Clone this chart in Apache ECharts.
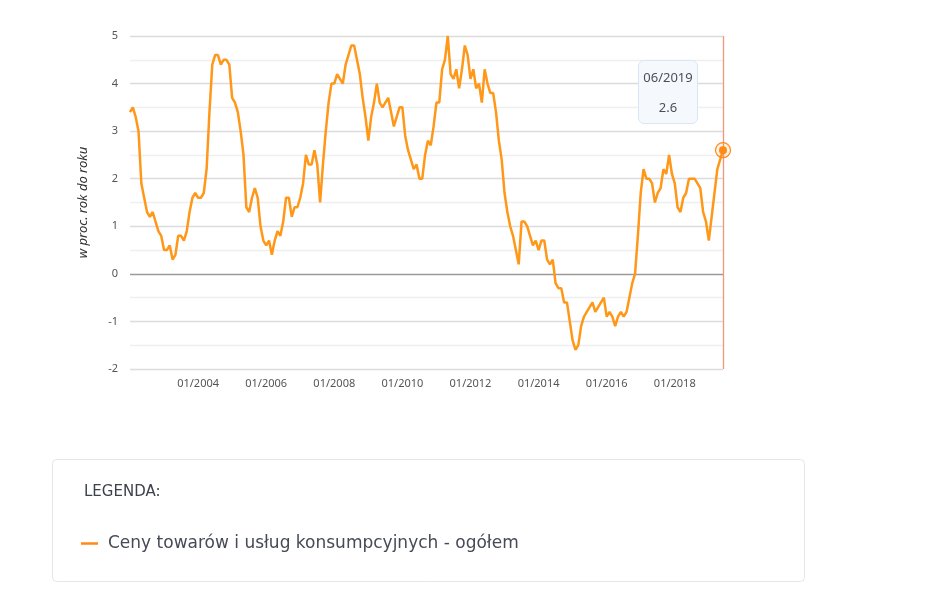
<!DOCTYPE html>
<html lang="pl">
<head>
<meta charset="UTF-8">
<title>Inflacja CPI</title>
<script src="https://cdn.jsdelivr.net/npm/echarts@6/dist/echarts.min.js"></script>
<style>
  html, body { margin: 0; padding: 0; background: #fff; }
  #chart { width: 945px; height: 599px; }
</style>
</head>
<body>
<div id="chart"></div>
<script>
// CPI r/r, miesięcznie 01/2002 - 06/2019
var years = [2002, 2003, 2004, 2005, 2006, 2007, 2008, 2009, 2010, 2011, 2012, 2013, 2014, 2015, 2016, 2017, 2018, 2019];
var cpi2002 = [3.4, 3.5, 3.3, 3.0, 1.9, 1.6, 1.3, 1.2, 1.3, 1.1, 0.9, 0.8];
var cpi2003 = [0.5, 0.5, 0.6, 0.3, 0.4, 0.8, 0.8, 0.7, 0.9, 1.3, 1.6, 1.7];
var cpi2004 = [1.6, 1.6, 1.7, 2.2, 3.4, 4.4, 4.6, 4.6, 4.4, 4.5, 4.5, 4.4];
var cpi2005 = [3.7, 3.6, 3.4, 3.0, 2.5, 1.4, 1.3, 1.6, 1.8, 1.6, 1.0, 0.7];
var cpi2006 = [0.6, 0.7, 0.4, 0.7, 0.9, 0.8, 1.1, 1.6, 1.6, 1.2, 1.4, 1.4];
var cpi2007 = [1.6, 1.9, 2.5, 2.3, 2.3, 2.6, 2.3, 1.5, 2.3, 3.0, 3.6, 4.0];
var cpi2008 = [4.0, 4.2, 4.1, 4.0, 4.4, 4.6, 4.8, 4.8, 4.5, 4.2, 3.7, 3.3];
var cpi2009 = [2.8, 3.3, 3.6, 4.0, 3.6, 3.5, 3.6, 3.7, 3.4, 3.1, 3.3, 3.5];
var cpi2010 = [3.5, 2.9, 2.6, 2.4, 2.2, 2.3, 2.0, 2.0, 2.5, 2.8, 2.7, 3.1];
var cpi2011 = [3.6, 3.6, 4.3, 4.5, 5.0, 4.2, 4.1, 4.3, 3.9, 4.3, 4.8, 4.6];
var cpi2012 = [4.1, 4.3, 3.9, 4.0, 3.6, 4.3, 4.0, 3.8, 3.8, 3.4, 2.8, 2.4];
var cpi2013 = [1.7, 1.3, 1.0, 0.8, 0.5, 0.2, 1.1, 1.1, 1.0, 0.8, 0.6, 0.7];
var cpi2014 = [0.5, 0.7, 0.7, 0.3, 0.2, 0.3, -0.2, -0.3, -0.3, -0.6, -0.6, -1.0];
var cpi2015 = [-1.4, -1.6, -1.5, -1.1, -0.9, -0.8, -0.7, -0.6, -0.8, -0.7, -0.6, -0.5];
var cpi2016 = [-0.9, -0.8, -0.9, -1.1, -0.9, -0.8, -0.9, -0.8, -0.5, -0.2, 0.0, 0.8];
var cpi2017 = [1.7, 2.2, 2.0, 2.0, 1.9, 1.5, 1.7, 1.8, 2.2, 2.1, 2.5, 2.1];
var cpi2018 = [1.9, 1.4, 1.3, 1.6, 1.7, 2.0, 2.0, 2.0, 1.9, 1.8, 1.3, 1.1];
var cpi2019 = [0.7, 1.2, 1.7, 2.2, 2.4, 2.6];

var yTicks = [-2, -1, 0, 1, 2, 3, 4, 5];
var seriesName = 'Ceny towarów i usług konsumpcyjnych - ogółem';

var yearly = [cpi2002, cpi2003, cpi2004, cpi2005, cpi2006, cpi2007, cpi2008, cpi2009, cpi2010,
  cpi2011, cpi2012, cpi2013, cpi2014, cpi2015, cpi2016, cpi2017, cpi2018, cpi2019];
var months = [];
var values = [];
for (var i = 0; i < years.length; i++) {
  for (var m = 0; m < yearly[i].length; m++) {
    months.push((m < 9 ? '0' : '') + (m + 1) + '/' + years[i]);
    values.push(yearly[i][m]);
  }
}
var last = values.length - 1;

// kolory linii siatki co 0.5 od -2 do 5 (całości ciemniejsze, zero najciemniejsze)
var gridColors = [];
for (var v = yTicks[0]; v <= yTicks[yTicks.length - 1] + 1e-9; v += 0.5) {
  if (Math.abs(v) < 1e-9) gridColors.push('#9a9a9a');
  else if (Math.abs(v - Math.round(v)) < 1e-9) gridColors.push('#dcdcdc');
  else gridColors.push('#efefef');
}

var font = 'Noto Sans';
var wideFont = 'DejaVu Sans';
var myChart = echarts.init(document.getElementById('chart'));
var option = {
  animation: false,
  textStyle: { fontFamily: font },
  grid: { left: 130, right: 222, top: 36, bottom: 230 },
  tooltip: {
    trigger: 'axis',
    alwaysShowContent: true,
    backgroundColor: '#f5f9fd',
    borderColor: '#d9e6f4',
    borderWidth: 1,
    borderRadius: 6,
    padding: [8, 0],
    extraCssText: 'box-shadow:none;width:60px;box-sizing:border-box;text-align:center;',
    position: function () { return [638, 60]; },
    textStyle: { color: '#4a4f5a', fontSize: 13, fontFamily: font },
    axisPointer: { type: 'none' },
    formatter: function (p) {
      return '<div style="line-height:16px">' + p[0].name + '</div>' +
        '<div style="line-height:16px;margin-top:14px">' + p[0].value + '</div>';
    }
  },
  legend: {
    left: 76,
    top: 530,
    icon: 'rect',
    itemWidth: 17,
    itemHeight: 2.5,
    textStyle: { color: '#454a55', fontSize: 17, fontFamily: wideFont, padding: [0, 0, 0, 5] },
    data: [seriesName]
  },
  graphic: [
    {
      type: 'rect',
      shape: { x: 52.5, y: 459.5, width: 752, height: 122, r: 4 },
      style: { fill: '#fff', stroke: '#e6e6e6', lineWidth: 1 },
      z: -1
    },
    {
      type: 'text',
      left: 84,
      top: 485,
      style: { text: 'LEGENDA:', fill: '#3c414c', fontSize: 15, fontFamily: wideFont }
    }
  ],
  xAxis: {
    type: 'category',
    data: months,
    boundaryGap: false,
    axisLine: { show: false },
    axisTick: { show: false },
    axisLabel: {
      color: '#555',
      fontSize: 11,
      margin: 9,
      interval: function (idx, val) {
        var y = +val.slice(3);
        return val.slice(0, 2) === '01' && y % 2 === 0 && y >= 2004;
      }
    },
    splitLine: { show: false }
  },
  yAxis: {
    type: 'value',
    min: yTicks[0],
    max: yTicks[yTicks.length - 1],
    interval: 0.5,
    name: 'w proc. rok do roku',
    nameLocation: 'middle',
    nameGap: 40,
    nameTextStyle: { color: '#333', fontSize: 13, fontStyle: 'italic', fontFamily: font },
    axisLine: { show: false },
    axisTick: { show: false },
    axisLabel: {
      color: '#555',
      fontSize: 11,
      margin: 12,
      formatter: function (v) { return Math.abs(v - Math.round(v)) < 1e-9 ? String(v) : ''; }
    },
    splitLine: { lineStyle: { color: gridColors, width: 1.3 } }
  },
  series: [{
    name: seriesName,
    type: 'line',
    data: values,
    showSymbol: false,
    symbol: 'none',
    color: '#ff8a16',
    lineStyle: { color: '#ff8a16', width: 2.5 },
    markLine: {
      silent: true,
      symbol: 'none',
      label: { show: false },
      lineStyle: { color: '#ee7a5c', width: 1.3, type: 'solid', opacity: 0.8 },
      data: [{ xAxis: last }]
    },
    markPoint: {
      silent: true,
      label: { show: false },
      data: [
        { coord: [last, values[last]], symbol: 'circle', symbolSize: 15,
          itemStyle: { color: 'rgba(255,138,22,0.12)', borderColor: '#ff8a16', borderWidth: 1.2 } },
        { coord: [last, values[last]], symbol: 'circle', symbolSize: 8,
          itemStyle: { color: '#ff8a16' } }
      ]
    }
  }]
};
myChart.setOption(option);
myChart.dispatchAction({ type: 'showTip', seriesIndex: 0, dataIndex: last });
</script>
</body>
</html>
